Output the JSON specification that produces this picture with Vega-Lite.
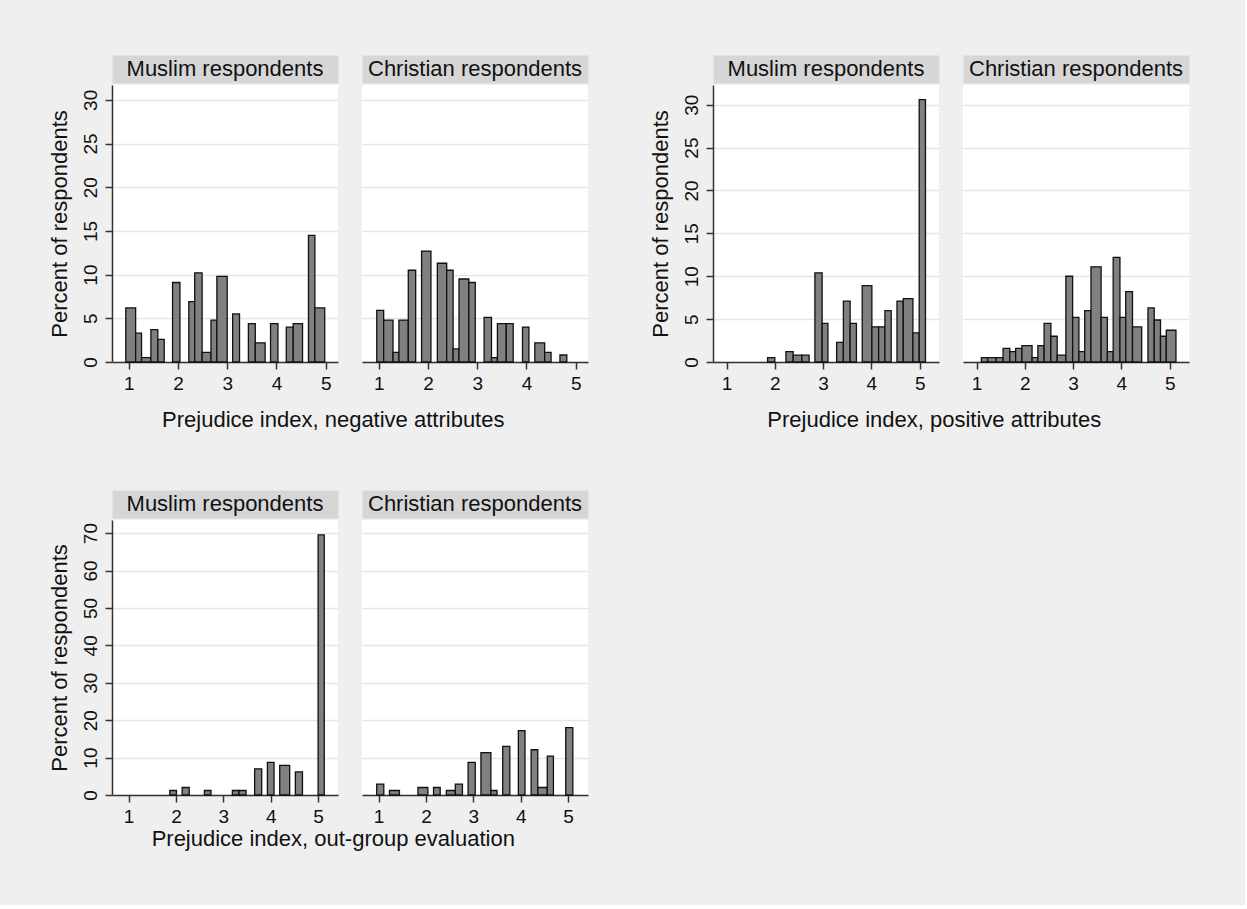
{
  "$schema": "https://vega.github.io/schema/vega-lite/v6.json",
  "background": "#efefef",
  "padding": {"left": 48, "top": 54, "right": 55, "bottom": 55},
  "datasets": {
    "bars": [
      {"g":1,"rel":"Muslim","x0":0.94,"x1":1.14,"pct":6.2},
      {"g":1,"rel":"Muslim","x0":1.14,"x1":1.26,"pct":3.3},
      {"g":1,"rel":"Muslim","x0":1.26,"x1":1.45,"pct":0.5},
      {"g":1,"rel":"Muslim","x0":1.45,"x1":1.59,"pct":3.7},
      {"g":1,"rel":"Muslim","x0":1.59,"x1":1.72,"pct":2.6},
      {"g":1,"rel":"Muslim","x0":1.89,"x1":2.04,"pct":9.1},
      {"g":1,"rel":"Muslim","x0":2.22,"x1":2.34,"pct":6.9},
      {"g":1,"rel":"Muslim","x0":2.34,"x1":2.49,"pct":10.2},
      {"g":1,"rel":"Muslim","x0":2.49,"x1":2.67,"pct":1.1},
      {"g":1,"rel":"Muslim","x0":2.67,"x1":2.79,"pct":4.8},
      {"g":1,"rel":"Muslim","x0":2.79,"x1":3.0,"pct":9.8},
      {"g":1,"rel":"Muslim","x0":3.11,"x1":3.25,"pct":5.5},
      {"g":1,"rel":"Muslim","x0":3.43,"x1":3.57,"pct":4.4},
      {"g":1,"rel":"Muslim","x0":3.57,"x1":3.77,"pct":2.2},
      {"g":1,"rel":"Muslim","x0":3.88,"x1":4.03,"pct":4.4},
      {"g":1,"rel":"Muslim","x0":4.2,"x1":4.34,"pct":4.0},
      {"g":1,"rel":"Muslim","x0":4.34,"x1":4.53,"pct":4.4},
      {"g":1,"rel":"Muslim","x0":4.65,"x1":4.78,"pct":14.5},
      {"g":1,"rel":"Muslim","x0":4.78,"x1":4.98,"pct":6.2},
      {"g":1,"rel":"Christian","x0":0.96,"x1":1.10,"pct":5.9},
      {"g":1,"rel":"Christian","x0":1.10,"x1":1.29,"pct":4.8},
      {"g":1,"rel":"Christian","x0":1.29,"x1":1.41,"pct":1.1},
      {"g":1,"rel":"Christian","x0":1.41,"x1":1.60,"pct":4.8},
      {"g":1,"rel":"Christian","x0":1.60,"x1":1.75,"pct":10.5},
      {"g":1,"rel":"Christian","x0":1.87,"x1":2.06,"pct":12.7},
      {"g":1,"rel":"Christian","x0":2.19,"x1":2.38,"pct":11.3},
      {"g":1,"rel":"Christian","x0":2.38,"x1":2.51,"pct":10.5},
      {"g":1,"rel":"Christian","x0":2.51,"x1":2.63,"pct":1.5},
      {"g":1,"rel":"Christian","x0":2.63,"x1":2.83,"pct":9.5},
      {"g":1,"rel":"Christian","x0":2.83,"x1":2.96,"pct":9.1},
      {"g":1,"rel":"Christian","x0":3.14,"x1":3.29,"pct":5.1},
      {"g":1,"rel":"Christian","x0":3.29,"x1":3.41,"pct":0.5},
      {"g":1,"rel":"Christian","x0":3.41,"x1":3.59,"pct":4.4},
      {"g":1,"rel":"Christian","x0":3.59,"x1":3.73,"pct":4.4},
      {"g":1,"rel":"Christian","x0":3.92,"x1":4.05,"pct":4.0},
      {"g":1,"rel":"Christian","x0":4.17,"x1":4.37,"pct":2.2},
      {"g":1,"rel":"Christian","x0":4.37,"x1":4.50,"pct":1.1},
      {"g":1,"rel":"Christian","x0":4.68,"x1":4.82,"pct":0.8},
      {"g":2,"rel":"Muslim","x0":1.85,"x1":2.0,"pct":0.5},
      {"g":2,"rel":"Muslim","x0":2.23,"x1":2.38,"pct":1.2},
      {"g":2,"rel":"Muslim","x0":2.38,"x1":2.56,"pct":0.8},
      {"g":2,"rel":"Muslim","x0":2.56,"x1":2.71,"pct":0.8},
      {"g":2,"rel":"Muslim","x0":2.83,"x1":2.98,"pct":10.4},
      {"g":2,"rel":"Muslim","x0":2.98,"x1":3.10,"pct":4.5},
      {"g":2,"rel":"Muslim","x0":3.28,"x1":3.42,"pct":2.3},
      {"g":2,"rel":"Muslim","x0":3.42,"x1":3.56,"pct":7.1},
      {"g":2,"rel":"Muslim","x0":3.56,"x1":3.69,"pct":4.5},
      {"g":2,"rel":"Muslim","x0":3.81,"x1":4.01,"pct":8.9},
      {"g":2,"rel":"Muslim","x0":4.01,"x1":4.15,"pct":4.1},
      {"g":2,"rel":"Muslim","x0":4.15,"x1":4.28,"pct":4.1},
      {"g":2,"rel":"Muslim","x0":4.28,"x1":4.41,"pct":6.0},
      {"g":2,"rel":"Muslim","x0":4.53,"x1":4.66,"pct":7.1},
      {"g":2,"rel":"Muslim","x0":4.66,"x1":4.86,"pct":7.4},
      {"g":2,"rel":"Muslim","x0":4.86,"x1":4.99,"pct":3.4},
      {"g":2,"rel":"Muslim","x0":4.99,"x1":5.12,"pct":30.6},
      {"g":2,"rel":"Christian","x0":1.10,"x1":1.23,"pct":0.5},
      {"g":2,"rel":"Christian","x0":1.23,"x1":1.41,"pct":0.5},
      {"g":2,"rel":"Christian","x0":1.41,"x1":1.55,"pct":0.5},
      {"g":2,"rel":"Christian","x0":1.55,"x1":1.69,"pct":1.6},
      {"g":2,"rel":"Christian","x0":1.69,"x1":1.81,"pct":1.2},
      {"g":2,"rel":"Christian","x0":1.81,"x1":1.94,"pct":1.6},
      {"g":2,"rel":"Christian","x0":1.94,"x1":2.15,"pct":1.9},
      {"g":2,"rel":"Christian","x0":2.15,"x1":2.27,"pct":0.5},
      {"g":2,"rel":"Christian","x0":2.27,"x1":2.40,"pct":1.9},
      {"g":2,"rel":"Christian","x0":2.40,"x1":2.54,"pct":4.5},
      {"g":2,"rel":"Christian","x0":2.54,"x1":2.67,"pct":3.0},
      {"g":2,"rel":"Christian","x0":2.67,"x1":2.85,"pct":0.8},
      {"g":2,"rel":"Christian","x0":2.85,"x1":2.99,"pct":10.0},
      {"g":2,"rel":"Christian","x0":2.99,"x1":3.12,"pct":5.2},
      {"g":2,"rel":"Christian","x0":3.12,"x1":3.24,"pct":1.2},
      {"g":2,"rel":"Christian","x0":3.24,"x1":3.37,"pct":6.0},
      {"g":2,"rel":"Christian","x0":3.37,"x1":3.58,"pct":11.1},
      {"g":2,"rel":"Christian","x0":3.58,"x1":3.71,"pct":5.2},
      {"g":2,"rel":"Christian","x0":3.71,"x1":3.83,"pct":1.2},
      {"g":2,"rel":"Christian","x0":3.83,"x1":3.97,"pct":12.2},
      {"g":2,"rel":"Christian","x0":3.97,"x1":4.09,"pct":5.2},
      {"g":2,"rel":"Christian","x0":4.09,"x1":4.23,"pct":8.2},
      {"g":2,"rel":"Christian","x0":4.23,"x1":4.42,"pct":4.1},
      {"g":2,"rel":"Christian","x0":4.55,"x1":4.68,"pct":6.3},
      {"g":2,"rel":"Christian","x0":4.68,"x1":4.81,"pct":4.9},
      {"g":2,"rel":"Christian","x0":4.81,"x1":4.93,"pct":3.0},
      {"g":2,"rel":"Christian","x0":4.93,"x1":5.13,"pct":3.7},
      {"g":3,"rel":"Muslim","x0":1.87,"x1":2.01,"pct":1.2},
      {"g":3,"rel":"Muslim","x0":2.13,"x1":2.28,"pct":2.0},
      {"g":3,"rel":"Muslim","x0":2.60,"x1":2.74,"pct":1.2},
      {"g":3,"rel":"Muslim","x0":3.19,"x1":3.33,"pct":1.2},
      {"g":3,"rel":"Muslim","x0":3.33,"x1":3.48,"pct":1.2},
      {"g":3,"rel":"Muslim","x0":3.66,"x1":3.81,"pct":7.0},
      {"g":3,"rel":"Muslim","x0":3.93,"x1":4.07,"pct":8.7},
      {"g":3,"rel":"Muslim","x0":4.19,"x1":4.40,"pct":7.9},
      {"g":3,"rel":"Muslim","x0":4.52,"x1":4.67,"pct":6.2},
      {"g":3,"rel":"Muslim","x0":5.0,"x1":5.13,"pct":69.5},
      {"g":3,"rel":"Christian","x0":0.96,"x1":1.11,"pct":2.9},
      {"g":3,"rel":"Christian","x0":1.23,"x1":1.44,"pct":1.2},
      {"g":3,"rel":"Christian","x0":1.83,"x1":2.04,"pct":2.0},
      {"g":3,"rel":"Christian","x0":2.16,"x1":2.30,"pct":2.0},
      {"g":3,"rel":"Christian","x0":2.43,"x1":2.62,"pct":1.2},
      {"g":3,"rel":"Christian","x0":2.62,"x1":2.77,"pct":2.9},
      {"g":3,"rel":"Christian","x0":2.89,"x1":3.04,"pct":8.7},
      {"g":3,"rel":"Christian","x0":3.16,"x1":3.37,"pct":11.3},
      {"g":3,"rel":"Christian","x0":3.37,"x1":3.50,"pct":1.2},
      {"g":3,"rel":"Christian","x0":3.62,"x1":3.77,"pct":13.0},
      {"g":3,"rel":"Christian","x0":3.95,"x1":4.09,"pct":17.2},
      {"g":3,"rel":"Christian","x0":4.22,"x1":4.36,"pct":12.1},
      {"g":3,"rel":"Christian","x0":4.36,"x1":4.56,"pct":2.0},
      {"g":3,"rel":"Christian","x0":4.56,"x1":4.69,"pct":10.4},
      {"g":3,"rel":"Christian","x0":4.95,"x1":5.10,"pct":18.0}
    ],
    "hdrM": [{"label": "Muslim respondents"}],
    "hdrC": [{"label": "Christian respondents"}]
  },
  "spacing": 58,
  "vconcat": [
    {
      "spacing": 60,
      "hconcat": [
        {
          "title": {"text": "Prejudice index, negative attributes", "orient": "bottom", "anchor": "middle", "offset": 17, "dx": 15},
          "spacing": 22,
          "hconcat": [
            {
              "spacing": 1,
              "vconcat": [
                {"data": {"name": "hdrM"}, "width": 226, "height": 28, "view": {"fill": "#d6d6d6", "stroke": "#dbe6e8"},
                 "mark": {"type": "text", "fontSize": 22, "color": "#111"},
                 "encoding": {"text": {"field": "label"}, "x": {"datum": 0.5, "type": "quantitative", "scale": {"domain": [0, 1]}, "axis": null}, "y": {"datum": 0.5, "type": "quantitative", "scale": {"domain": [0, 1]}, "axis": null}}},
                {"data": {"name": "bars"}, "transform": [{"filter": "datum.g == 1 && datum.rel == 'Muslim'"}], "width": 226, "height": 277,
                 "mark": {"type": "rect", "fill": "#808080", "stroke": "#111", "strokeWidth": 1.3},
                 "encoding": {
                   "x": {"field": "x0", "type": "quantitative", "scale": {"domain": [0.66, 5.25], "nice": false, "zero": false}, "axis": {"values": [1, 2, 3, 4, 5], "title": null, "grid": false}},
                   "x2": {"field": "x1"},
                   "y": {"field": "pct", "type": "quantitative", "scale": {"domain": [0, 31.7], "nice": false}, "axis": {"values": [0, 5, 10, 15, 20, 25, 30], "labelAngle": -90, "title": "Percent of respondents"}},
                   "y2": {"datum": 0}
                 }}
              ]
            },
            {
              "spacing": 1,
              "vconcat": [
                {"data": {"name": "hdrC"}, "width": 226, "height": 28, "view": {"fill": "#d6d6d6", "stroke": "#dbe6e8"},
                 "mark": {"type": "text", "fontSize": 22, "color": "#111"},
                 "encoding": {"text": {"field": "label"}, "x": {"datum": 0.5, "type": "quantitative", "scale": {"domain": [0, 1]}, "axis": null}, "y": {"datum": 0.5, "type": "quantitative", "scale": {"domain": [0, 1]}, "axis": null}}},
                {"data": {"name": "bars"}, "transform": [{"filter": "datum.g == 1 && datum.rel == 'Christian'"}], "width": 226, "height": 277,
                 "mark": {"type": "rect", "fill": "#808080", "stroke": "#111", "strokeWidth": 1.3},
                 "encoding": {
                   "x": {"field": "x0", "type": "quantitative", "scale": {"domain": [0.66, 5.25], "nice": false, "zero": false}, "axis": {"values": [1, 2, 3, 4, 5], "title": null, "grid": false}},
                   "x2": {"field": "x1"},
                   "y": {"field": "pct", "type": "quantitative", "scale": {"domain": [0, 31.7], "nice": false}, "axis": {"values": [0, 5, 10, 15, 20, 25, 30], "labels": false, "ticks": false, "domain": false, "title": null}},
                   "y2": {"datum": 0}
                 }}
              ]
            }
          ]
        },
        {
          "title": {"text": "Prejudice index, positive attributes", "orient": "bottom", "anchor": "middle", "offset": 17, "dx": 15},
          "spacing": 22,
          "hconcat": [
            {
              "spacing": 1,
              "vconcat": [
                {"data": {"name": "hdrM"}, "width": 226, "height": 28, "view": {"fill": "#d6d6d6", "stroke": "#dbe6e8"},
                 "mark": {"type": "text", "fontSize": 22, "color": "#111"},
                 "encoding": {"text": {"field": "label"}, "x": {"datum": 0.5, "type": "quantitative", "scale": {"domain": [0, 1]}, "axis": null}, "y": {"datum": 0.5, "type": "quantitative", "scale": {"domain": [0, 1]}, "axis": null}}},
                {"data": {"name": "bars"}, "transform": [{"filter": "datum.g == 2 && datum.rel == 'Muslim'"}], "width": 226, "height": 277,
                 "mark": {"type": "rect", "fill": "#808080", "stroke": "#111", "strokeWidth": 1.3},
                 "encoding": {
                   "x": {"field": "x0", "type": "quantitative", "scale": {"domain": [0.72, 5.4], "nice": false, "zero": false}, "axis": {"values": [1, 2, 3, 4, 5], "title": null, "grid": false}},
                   "x2": {"field": "x1"},
                   "y": {"field": "pct", "type": "quantitative", "scale": {"domain": [0, 32.3], "nice": false}, "axis": {"values": [0, 5, 10, 15, 20, 25, 30], "labelAngle": -90, "title": "Percent of respondents"}},
                   "y2": {"datum": 0}
                 }}
              ]
            },
            {
              "spacing": 1,
              "vconcat": [
                {"data": {"name": "hdrC"}, "width": 226, "height": 28, "view": {"fill": "#d6d6d6", "stroke": "#dbe6e8"},
                 "mark": {"type": "text", "fontSize": 22, "color": "#111"},
                 "encoding": {"text": {"field": "label"}, "x": {"datum": 0.5, "type": "quantitative", "scale": {"domain": [0, 1]}, "axis": null}, "y": {"datum": 0.5, "type": "quantitative", "scale": {"domain": [0, 1]}, "axis": null}}},
                {"data": {"name": "bars"}, "transform": [{"filter": "datum.g == 2 && datum.rel == 'Christian'"}], "width": 226, "height": 277,
                 "mark": {"type": "rect", "fill": "#808080", "stroke": "#111", "strokeWidth": 1.3},
                 "encoding": {
                   "x": {"field": "x0", "type": "quantitative", "scale": {"domain": [0.72, 5.4], "nice": false, "zero": false}, "axis": {"values": [1, 2, 3, 4, 5], "title": null, "grid": false}},
                   "x2": {"field": "x1"},
                   "y": {"field": "pct", "type": "quantitative", "scale": {"domain": [0, 32.3], "nice": false}, "axis": {"values": [0, 5, 10, 15, 20, 25, 30], "labels": false, "ticks": false, "domain": false, "title": null}},
                   "y2": {"datum": 0}
                 }}
              ]
            }
          ]
        }
      ]
    },
    {
      "title": {"text": "Prejudice index, out-group evaluation", "orient": "bottom", "anchor": "middle", "offset": 3, "dx": 15},
      "spacing": 22,
      "hconcat": [
        {
          "spacing": 1,
          "vconcat": [
            {"data": {"name": "hdrM"}, "width": 226, "height": 28, "view": {"fill": "#d6d6d6", "stroke": "#dbe6e8"},
             "mark": {"type": "text", "fontSize": 22, "color": "#111"},
             "encoding": {"text": {"field": "label"}, "x": {"datum": 0.5, "type": "quantitative", "scale": {"domain": [0, 1]}, "axis": null}, "y": {"datum": 0.5, "type": "quantitative", "scale": {"domain": [0, 1]}, "axis": null}}},
            {"data": {"name": "bars"}, "transform": [{"filter": "datum.g == 3 && datum.rel == 'Muslim'"}], "width": 226, "height": 275,
             "mark": {"type": "rect", "fill": "#808080", "stroke": "#111", "strokeWidth": 1.3},
             "encoding": {
               "x": {"field": "x0", "type": "quantitative", "scale": {"domain": [0.65, 5.42], "nice": false, "zero": false}, "axis": {"values": [1, 2, 3, 4, 5], "title": null, "grid": false}},
               "x2": {"field": "x1"},
               "y": {"field": "pct", "type": "quantitative", "scale": {"domain": [0, 73.5], "nice": false}, "axis": {"values": [0, 10, 20, 30, 40, 50, 60, 70], "labelAngle": -90, "title": "Percent of respondents"}},
               "y2": {"datum": 0}
             }}
          ]
        },
        {
          "spacing": 1,
          "vconcat": [
            {"data": {"name": "hdrC"}, "width": 226, "height": 28, "view": {"fill": "#d6d6d6", "stroke": "#dbe6e8"},
             "mark": {"type": "text", "fontSize": 22, "color": "#111"},
             "encoding": {"text": {"field": "label"}, "x": {"datum": 0.5, "type": "quantitative", "scale": {"domain": [0, 1]}, "axis": null}, "y": {"datum": 0.5, "type": "quantitative", "scale": {"domain": [0, 1]}, "axis": null}}},
            {"data": {"name": "bars"}, "transform": [{"filter": "datum.g == 3 && datum.rel == 'Christian'"}], "width": 226, "height": 275,
             "mark": {"type": "rect", "fill": "#808080", "stroke": "#111", "strokeWidth": 1.3},
             "encoding": {
               "x": {"field": "x0", "type": "quantitative", "scale": {"domain": [0.65, 5.42], "nice": false, "zero": false}, "axis": {"values": [1, 2, 3, 4, 5], "title": null, "grid": false}},
               "x2": {"field": "x1"},
               "y": {"field": "pct", "type": "quantitative", "scale": {"domain": [0, 73.5], "nice": false}, "axis": {"values": [0, 10, 20, 30, 40, 50, 60, 70], "labels": false, "ticks": false, "domain": false, "title": null}},
               "y2": {"datum": 0}
             }}
          ]
        }
      ]
    }
  ],
  "config": {
    "font": "Liberation Sans",
    "view": {"fill": "white", "stroke": null},
    "axis": {
      "labelFont": "Liberation Sans", "labelFontSize": 19, "labelColor": "#111", "labelPadding": 5,
      "titleFont": "Liberation Sans", "titleFontSize": 22, "titleFontWeight": "normal", "titleColor": "#111", "titlePadding": 10,
      "domainColor": "#333", "domainWidth": 1.5, "tickColor": "#333", "tickWidth": 1.5, "tickSize": 7,
      "gridColor": "#e6e6e6", "gridWidth": 1.5
    },
    "axisX": {"labelAngle": 0},
    "title": {"font": "Liberation Sans", "fontSize": 22, "fontWeight": "normal", "color": "#111"}
  }
}
